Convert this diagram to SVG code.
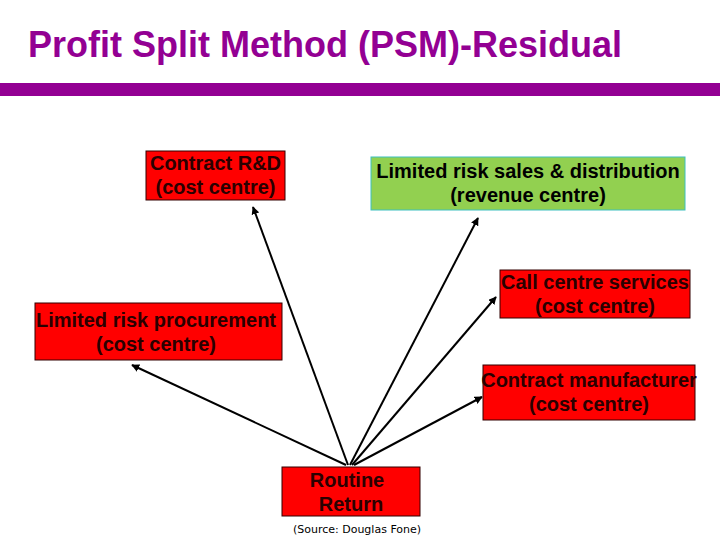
<svg xmlns="http://www.w3.org/2000/svg" width="720" height="540" viewBox="0 0 720 540">
<style>
.t{font-family:"Liberation Sans",Arial,sans-serif;font-weight:bold;font-size:20px;text-anchor:middle}
.red{fill:#ff0000;stroke:#330000;stroke-width:1}
.rt{fill:#2a0000}
.c{stroke:#000;stroke-width:2;fill:none;marker-end:url(#ah)}
</style>
<defs>
<marker id="ah" viewBox="0 0 10 10" refX="9" refY="5" markerWidth="4" markerHeight="4" orient="auto" markerUnits="strokeWidth">
<path d="M0,0 L10,5 L0,10 z" fill="#000"/>
</marker>
</defs>
<rect width="720" height="540" fill="#fff"/>
<text x="28" y="57" font-family="Liberation Sans,Arial,sans-serif" font-weight="bold" font-size="36" fill="#930093">Profit Split Method (PSM)-Residual</text>
<rect x="0" y="83" width="720" height="13" fill="#930093"/>
<g id="connectors">
<line class="c" x1="348" y1="465" x2="253" y2="207"/>
<line class="c" x1="350" y1="465" x2="478" y2="218"/>
<line class="c" x1="352" y1="465" x2="496" y2="297"/>
<line class="c" x1="354" y1="465" x2="482" y2="397"/>
<line class="c" x1="346" y1="465" x2="132" y2="365"/>
</g>
<g id="rd">
<rect class="red" x="146" y="151" width="139" height="49"/>
<text class="t rt" x="215.5" y="170">Contract R&amp;D</text>
<text class="t rt" x="215.5" y="194">(cost centre)</text>
</g>
<g id="sales">
<rect x="371" y="157" width="314" height="53" fill="#92d050" stroke="#3cc0c0" stroke-width="1"/>
<text class="t" x="528" y="178" fill="#000">Limited risk sales &amp; distribution</text>
<text class="t" x="528" y="202" fill="#000">(revenue centre)</text>
</g>
<g id="callcentre">
<rect class="red" x="500" y="270" width="190" height="48"/>
<text class="t rt" x="595" y="289">Call centre services</text>
<text class="t rt" x="595" y="313">(cost centre)</text>
</g>
<g id="procurement">
<rect class="red" x="35" y="303" width="247" height="57"/>
<text class="t rt" x="156" y="327">Limited risk procurement</text>
<text class="t rt" x="156" y="351">(cost centre)</text>
</g>
<g id="manufacturer">
<rect class="red" x="483" y="365" width="212" height="55"/>
<text class="t rt" x="589" y="387">Contract manufacturer</text>
<text class="t rt" x="589" y="411">(cost centre)</text>
</g>
<g id="routine">
<rect class="red" x="282" y="467" width="138" height="49"/>
<text class="t rt" x="347" y="487">Routine</text>
<text class="t rt" x="351" y="511">Return</text>
</g>
<text x="357" y="533" font-family="DejaVu Sans,Verdana,sans-serif" font-size="11" text-anchor="middle" fill="#000">(Source: Douglas Fone)</text>
</svg>
